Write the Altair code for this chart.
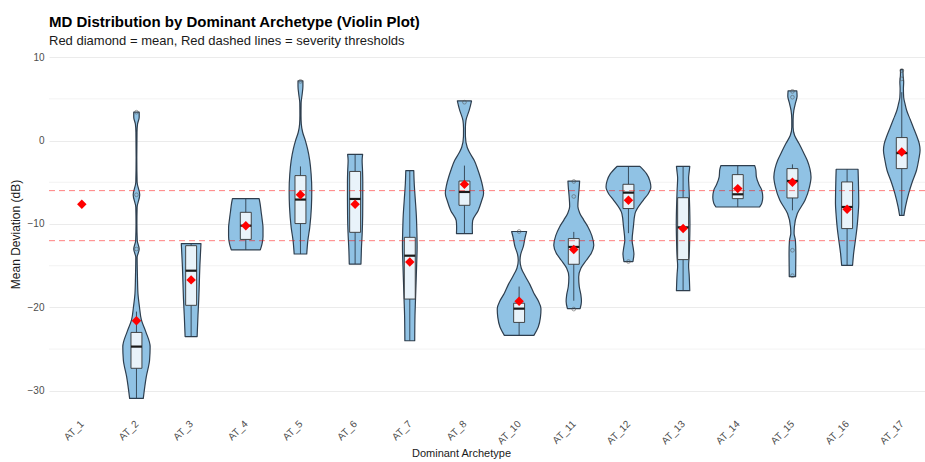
import json
import altair as alt
import pandas as pd

CATEGORIES = ["AT_1", "AT_2", "AT_3", "AT_4", "AT_5", "AT_6", "AT_7", "AT_8",
              "AT_10", "AT_11", "AT_12", "AT_13", "AT_14", "AT_15", "AT_16", "AT_17"]

# Violin outlines: (mean deviation in dB, half width in category units)
VIOLIN_AT_2 = [(3.4, 0.05), (2.8, 0.05), (2.0, 0.02), (1.0, 0.01), (-2.0, 0.006), (-5.0, 0.012),
               (-6.5, 0.06), (-8.0, 0.012), (-10.0, 0.008), (-12.0, 0.015), (-13.0, 0.05), (-14.0, 0.012),
               (-16.35, 0.018), (-18.3, 0.027), (-19.95, 0.055), (-21.5, 0.09), (-22.9, 0.17),
               (-24.7, 0.25), (-26.3, 0.24), (-28.3, 0.18), (-30.9, 0.125)]
VIOLIN_AT_3 = [(-12.35, 0.18), (-13.0, 0.175), (-15.0, 0.16), (-17.0, 0.15), (-19.0, 0.14),
               (-21.0, 0.125), (-23.5, 0.11)]
VIOLIN_AT_4 = [(-6.95, 0.244), (-7.5, 0.26), (-8.5, 0.28), (-9.5, 0.30), (-10.5, 0.315),
               (-11.5, 0.315), (-12.3, 0.30), (-12.8, 0.28), (-13.1, 0.265)]
VIOLIN_AT_5 = [(7.15, 0.045), (6.5, 0.045), (5.5, 0.03), (4.5, 0.012), (3.0, 0.01), (2.0, 0.015),
               (1.0, 0.04), (0.0, 0.09), (-1.0, 0.13), (-2.4, 0.17), (-4.0, 0.195), (-6.0, 0.207),
               (-8.0, 0.2), (-10.4, 0.17), (-12.0, 0.135), (-13.6, 0.115)]
VIOLIN_AT_6 = [(-1.65, 0.137), (-2.4, 0.128), (-3.5, 0.135), (-5.0, 0.14), (-7.0, 0.14),
               (-9.0, 0.138), (-11.0, 0.13), (-13.0, 0.115), (-14.8, 0.107)]
VIOLIN_AT_7 = [(-3.6, 0.073), (-5.0, 0.08), (-7.0, 0.1), (-9.0, 0.12), (-11.0, 0.13),
               (-12.75, 0.134), (-15.0, 0.125), (-17.0, 0.115), (-19.0, 0.105), (-21.0, 0.095),
               (-24.0, 0.09)]
VIOLIN_AT_8 = [(4.75, 0.13), (4.2, 0.11), (3.6, 0.085), (2.4, 0.027), (1.5, 0.017), (0.5, 0.018),
               (-0.8, 0.05), (-1.5, 0.1), (-2.4, 0.18), (-3.4, 0.24), (-4.4, 0.29), (-5.4, 0.33),
               (-6.3, 0.35), (-7.3, 0.31), (-8.4, 0.25), (-9.6, 0.15), (-10.4, 0.143), (-11.15, 0.146)]
VIOLIN_AT_10 = [(-10.9, 0.137), (-11.6, 0.11), (-12.75, 0.075), (-13.6, 0.03), (-14.35, 0.016),
                (-15.3, 0.04), (-16.35, 0.12), (-17.3, 0.2), (-18.3, 0.27), (-19.2, 0.35),
                (-20.15, 0.40), (-21.2, 0.39), (-22.35, 0.35), (-23.35, 0.27)]
VIOLIN_AT_11 = [(-4.85, 0.107), (-5.6, 0.1), (-6.7, 0.085), (-7.9, 0.075), (-8.7, 0.11),
                (-9.5, 0.18), (-10.36, 0.26), (-11.4, 0.33), (-12.55, 0.366), (-13.5, 0.32),
                (-14.35, 0.23), (-15.3, 0.13), (-16.35, 0.09), (-17.5, 0.1), (-18.5, 0.13),
                (-19.3, 0.14), (-20.15, 0.116)]
VIOLIN_AT_12 = [(-3.1, 0.21), (-3.96, 0.33), (-4.8, 0.39), (-5.56, 0.41), (-6.4, 0.36),
                (-7.16, 0.27), (-8.75, 0.12), (-10.36, 0.09), (-11.95, 0.067), (-13.0, 0.09),
                (-13.6, 0.1), (-14.5, 0.082)]
VIOLIN_AT_13 = [(-3.1, 0.122), (-3.8, 0.11), (-4.5, 0.1), (-6.0, 0.11), (-8.0, 0.12),
                (-10.0, 0.125), (-12.0, 0.12), (-14.0, 0.11), (-15.0, 0.1), (-16.0, 0.11),
                (-18.0, 0.122)]
VIOLIN_AT_14 = [(-3.0, 0.31), (-3.5, 0.33), (-4.36, 0.34), (-5.3, 0.39), (-5.96, 0.44),
                (-6.8, 0.457), (-7.5, 0.44), (-7.96, 0.40)]
VIOLIN_AT_15 = [(5.95, 0.08), (5.3, 0.085), (4.6, 0.06), (3.6, 0.025), (2.5, 0.012), (1.6, 0.012),
                (0.6, 0.04), (-0.36, 0.12), (-1.4, 0.2), (-2.36, 0.27), (-3.4, 0.32), (-4.36, 0.34),
                (-5.6, 0.31), (-7.16, 0.23), (-8.75, 0.09), (-10.36, 0.035), (-11.1, 0.03),
                (-12.0, 0.055), (-13.5, 0.062), (-15.0, 0.06), (-16.3, 0.058)]
VIOLIN_AT_16 = [(-3.44, 0.2), (-4.5, 0.205), (-6.0, 0.21), (-7.5, 0.213), (-9.0, 0.2),
                (-10.5, 0.18), (-11.56, 0.16), (-13.5, 0.12), (-14.95, 0.1)]
VIOLIN_AT_17 = [(8.5, 0.022), (7.8, 0.025), (7.0, 0.035), (6.2, 0.03), (5.2, 0.035), (4.4, 0.06),
                (3.6, 0.09), (2.6, 0.15), (1.6, 0.21), (0.6, 0.27), (-0.36, 0.32), (-1.16, 0.335),
                (-2.3, 0.31), (-3.56, 0.27), (-5.0, 0.19), (-6.3, 0.128), (-7.96, 0.067),
                (-8.96, 0.04)]

# Box-plot summaries per archetype (AT_1 holds a single observation)
MEANS = [-7.64, -21.6, -16.7, -10.2, -6.5, -7.64, -14.55, -5.25, -19.25, -13.07, -7.16,
         -10.55, -5.76, -5.0, -8.24, -1.37]
Q1 = [None, -27.3, -19.75, -11.85, -9.95, -11.0, -19.0, -7.76, -21.8, -14.83, -8.15,
      -14.27, -6.96, -6.88, -10.55, -3.36]
MEDIAN = [None, -24.7, -15.6, -10.2, -7.07, -7.0, -13.8, -6.16, -20.15, -12.75, -6.24,
          -10.4, -6.44, -4.84, -7.96, -1.5]
Q3 = [None, -23.0, -12.6, -8.6, -4.2, -3.7, -11.6, -4.85, -19.5, -11.75, -5.24,
      -6.85, -4.08, -3.36, -4.96, 0.36]
WHISKER_LO = [None, -30.9, -23.5, -13.1, -13.6, -14.8, -24.0, -11.15, -23.35, -19.2, -11.1,
              -18.0, -7.96, -8.36, -14.95, -8.9]
WHISKER_HI = [None, -20.5, -12.35, -6.95, -3.1, -1.65, -3.6, -3.0, -17.5, -10.95, -3.1,
              -3.1, -3.0, -2.85, -3.44, 5.8]

OUTLIER_CAT = ["AT_2", "AT_2", "AT_2", "AT_5", "AT_8", "AT_10", "AT_11", "AT_11", "AT_11",
               "AT_12", "AT_15", "AT_15", "AT_15", "AT_15", "AT_17", "AT_17"]
OUTLIER_MD = [3.4, -6.5, -13.0, 7.1, 4.6, -10.9, -4.9, -6.7, -20.2, -14.5, 5.9, 5.2,
              -13.15, -16.2, 8.4, 7.4]

THRESHOLDS = [-6, -12]
MAJOR_TICKS = [-30, -20, -10, 0, 10]
MINOR_TICKS = [-25, -15, -5, 5]

VIOLINS = {
    "AT_2": VIOLIN_AT_2, "AT_3": VIOLIN_AT_3, "AT_4": VIOLIN_AT_4, "AT_5": VIOLIN_AT_5,
    "AT_6": VIOLIN_AT_6, "AT_7": VIOLIN_AT_7, "AT_8": VIOLIN_AT_8, "AT_10": VIOLIN_AT_10,
    "AT_11": VIOLIN_AT_11, "AT_12": VIOLIN_AT_12, "AT_13": VIOLIN_AT_13, "AT_14": VIOLIN_AT_14,
    "AT_15": VIOLIN_AT_15, "AT_16": VIOLIN_AT_16, "AT_17": VIOLIN_AT_17,
}

FONT = "Liberation Sans"
VIOLIN_FILL = "#90c2e4"
OUTLINE = "#2e3e4e"
BOX_HALF = 0.1
PLOT_W, PLOT_H = 876, 362

pos = {c: i for i, c in enumerate(CATEGORIES)}

violin_rows = []
for cat, prof in VIOLINS.items():
    for md, hw in prof:
        violin_rows.append({"cat": cat, "md": md,
                            "left": pos[cat] - hw, "right": pos[cat] + hw})
vdf = pd.DataFrame(violin_rows)

box_rows = []
for i, cat in enumerate(CATEGORIES):
    if Q1[i] is None:
        continue
    box_rows.append({"cat": cat, "x0": i - BOX_HALF, "x1": i + BOX_HALF, "xc": i,
                     "q1": Q1[i], "med": MEDIAN[i], "q3": Q3[i],
                     "lo": WHISKER_LO[i], "hi": WHISKER_HI[i]})
bdf = pd.DataFrame(box_rows)

mdf = pd.DataFrame({"cat": CATEGORIES, "xc": list(range(len(CATEGORIES))), "mean": MEANS})
odf = pd.DataFrame({"cat": OUTLIER_CAT, "xc": [pos[c] for c in OUTLIER_CAT], "md": OUTLIER_MD})
tdf = pd.DataFrame({"t": THRESHOLDS})
gdf = pd.DataFrame({"g": MINOR_TICKS})

x_scale = alt.Scale(domain=[-0.6, 15.425], nice=False, zero=False)
y_scale = alt.Scale(domain=[-32.9, 10.5], nice=False, zero=False)

label_expr = json.dumps(CATEGORIES) + "[datum.value]"

x_axis = alt.Axis(values=list(range(len(CATEGORIES))), labelExpr=label_expr,
                  labelAngle=-45, labelAlign="right", labelBaseline="middle",
                  labelFontSize=10, labelColor="#4d4d4d", labelFont=FONT, labelPadding=7,
                  ticks=False, domain=False, grid=False,
                  title="Dominant Archetype", titleFont=FONT, titleFontSize=11,
                  titleFontWeight="normal", titleColor="#1a1a1a", titleX=412, titlePadding=2)
y_axis = alt.Axis(values=MAJOR_TICKS, grid=True, gridColor="#ebebeb", gridWidth=1,
                  ticks=False, domain=False, labelFontSize=10, labelColor="#4d4d4d",
                  labelFont=FONT, labelPadding=5,
                  title="Mean Deviation (dB)", titleFont=FONT, titleFontSize=12,
                  titleFontWeight="normal", titleColor="#1a1a1a", titlePadding=5)


def X(field):
    return alt.X(field, scale=x_scale, axis=x_axis)


def Y(field):
    return alt.Y(field, scale=y_scale, axis=y_axis)


minor = alt.Chart(gdf).mark_rule(color="#ebebeb", strokeWidth=0.6).encode(
    y=Y("g:Q"), x=alt.value(0), x2=alt.value(PLOT_W))

violin = alt.Chart(vdf).mark_area(
    orient="horizontal", interpolate="monotone", fill=VIOLIN_FILL,
    stroke=OUTLINE, strokeWidth=1.2, strokeJoin="round"
).encode(
    y=Y("md:Q"),
    x=X("left:Q"),
    x2="right:Q",
    detail="cat:N",
)

whisk_lo = alt.Chart(bdf).mark_rule(color=OUTLINE, strokeWidth=0.9).encode(
    x=X("xc:Q"), y=Y("lo:Q"), y2="q1:Q")
whisk_hi = alt.Chart(bdf).mark_rule(color=OUTLINE, strokeWidth=0.9).encode(
    x=X("xc:Q"), y=Y("q3:Q"), y2="hi:Q")

box = alt.Chart(bdf).mark_rect(fill="white", fillOpacity=0.8, stroke="#333333",
                               strokeWidth=0.9).encode(
    x=X("x0:Q"), x2="x1:Q", y=Y("q1:Q"), y2="q3:Q")

median = alt.Chart(bdf).mark_rule(color="#1a1a1a", strokeWidth=2.2).encode(
    x=X("x0:Q"), x2="x1:Q", y=Y("med:Q"))

outliers = alt.Chart(odf).mark_point(shape="circle", filled=False, size=14,
                                     color="#555555", strokeWidth=0.8).encode(
    x=X("xc:Q"), y=Y("md:Q"))

thresholds = alt.Chart(tdf).mark_rule(color="#ff0000", opacity=0.5, strokeWidth=1,
                                      strokeDash=[6, 4]).encode(
    y=Y("t:Q"), x=alt.value(0), x2=alt.value(PLOT_W))

means = alt.Chart(mdf).mark_point(shape="diamond", filled=True, size=90, color="#ff0000",
                                  opacity=1).encode(
    x=X("xc:Q"), y=Y("mean:Q"))

chart = alt.layer(minor, violin, whisk_lo, whisk_hi, box, median, outliers, thresholds, means).properties(
    width=PLOT_W, height=PLOT_H,
    autosize=alt.AutoSizeParams(type="none"),
    padding={"left": 49, "top": 53, "right": 0, "bottom": 47},
    background="white",
    title=alt.TitleParams(
        text="MD Distribution by Dominant Archetype (Violin Plot)",
        subtitle="Red diamond = mean, Red dashed lines = severity thresholds",
        anchor="start", frame="group", font=FONT, fontSize=15, fontWeight="bold",
        color="#000000", subtitleFont=FONT, subtitleFontSize=13, subtitleColor="#1a1a1a",
        subtitlePadding=5, offset=4,
    ),
).configure_view(stroke=None)

chart.save("out.html", embed_options={"renderer": "svg", "actions": False})
